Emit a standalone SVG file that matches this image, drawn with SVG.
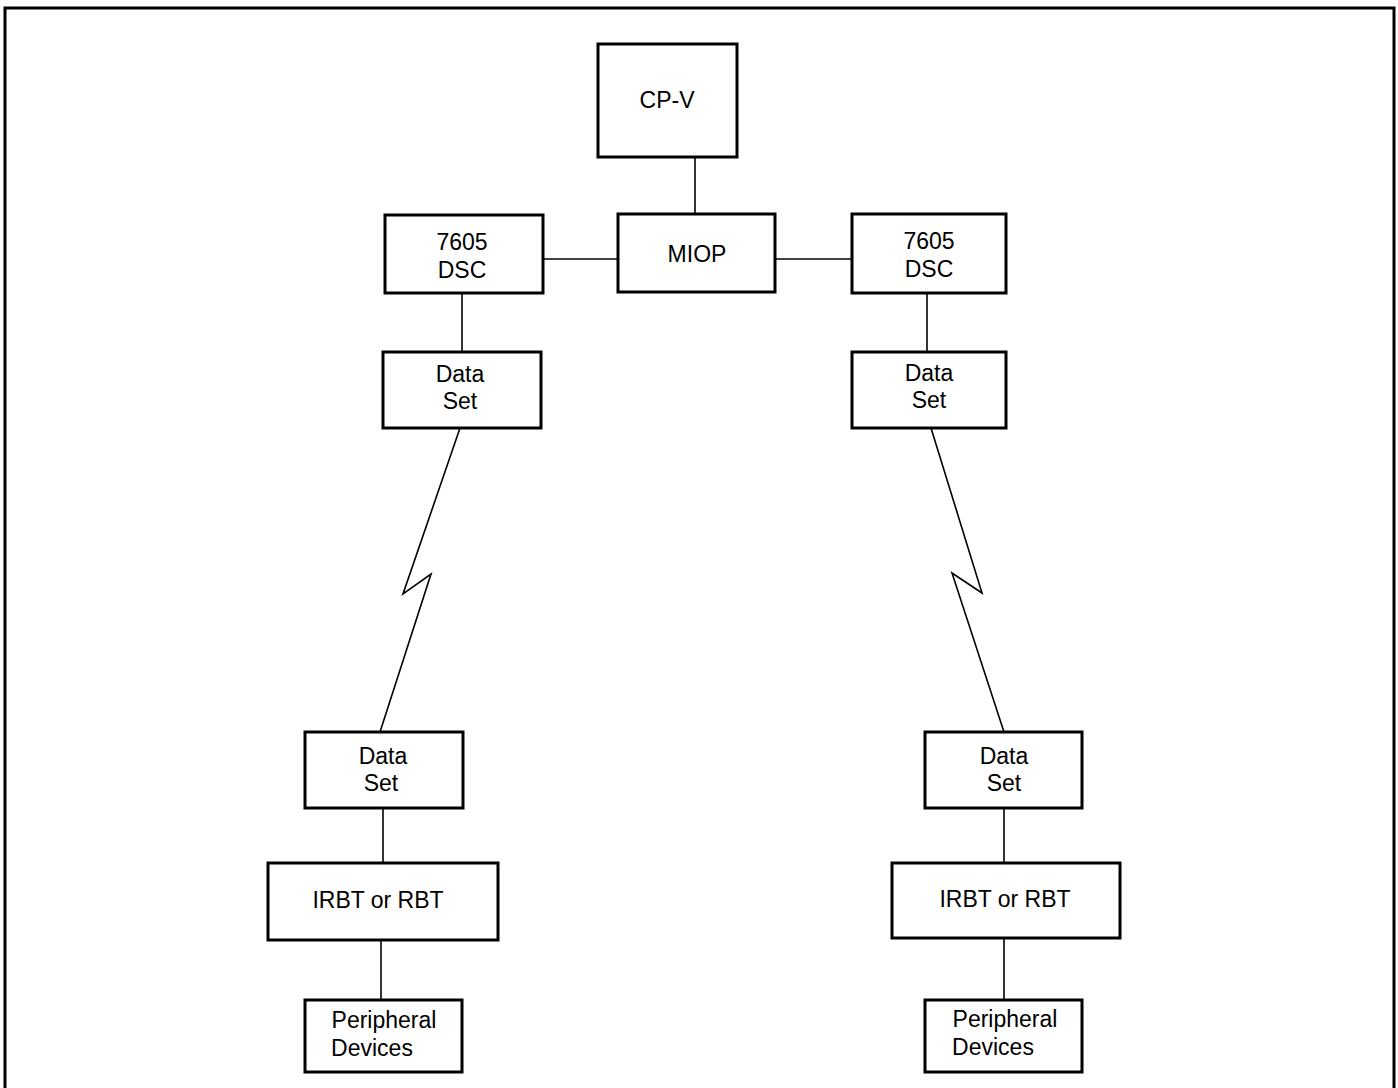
<svg xmlns="http://www.w3.org/2000/svg" width="1398" height="1088" viewBox="0 0 1398 1088">
<style>
.box{fill:#fff;stroke:#000;stroke-width:3}
.ln{fill:none;stroke:#000;stroke-width:1.6;stroke-linejoin:miter}
text{font-family:"Liberation Sans","DejaVu Sans",sans-serif;font-size:23px;fill:#000;text-anchor:middle}
</style>
<rect width="1398" height="1088" fill="#fff"/>
<path d="M5,1088 V8 H1394 V1088" fill="none" stroke="#000" stroke-width="3"/>
<g id="connectors">
<line class="ln" x1="695" y1="157" x2="695" y2="214"/>
<line class="ln" x1="543" y1="259" x2="618" y2="259"/>
<line class="ln" x1="775" y1="259" x2="852" y2="259"/>
<line class="ln" x1="462" y1="293" x2="462" y2="352"/>
<line class="ln" x1="927" y1="293" x2="927" y2="352"/>
<polyline class="ln" points="460,428 403,594 431,574 380,732"/>
<polyline class="ln" points="931,428 982,593 952,573 1004,732"/>
<line class="ln" x1="383" y1="808" x2="383" y2="863"/>
<line class="ln" x1="381" y1="940" x2="381" y2="1000"/>
<line class="ln" x1="1004" y1="808" x2="1004" y2="863"/>
<line class="ln" x1="1004" y1="938" x2="1004" y2="1000"/>
</g>
<g id="cpv"><rect class="box" x="598" y="44" width="139" height="113"/><text x="667" y="108">CP-V</text></g>
<g id="miop"><rect class="box" x="618" y="214" width="157" height="78"/><text x="697" y="262">MIOP</text></g>
<g id="dsc-left"><rect class="box" x="385" y="215" width="158" height="78"/><text x="462" y="250">7605</text><text x="462" y="278">DSC</text></g>
<g id="dsc-right"><rect class="box" x="852" y="214" width="154" height="79"/><text x="929" y="249">7605</text><text x="929" y="277">DSC</text></g>
<g id="ds-left-top"><rect class="box" x="383" y="352" width="158" height="76"/><text x="460" y="382">Data</text><text x="460" y="409">Set</text></g>
<g id="ds-right-top"><rect class="box" x="852" y="352" width="154" height="76"/><text x="929" y="381">Data</text><text x="929" y="408">Set</text></g>
<g id="ds-left-bottom"><rect class="box" x="305" y="732" width="158" height="76"/><text x="383" y="764">Data</text><text x="381" y="791">Set</text></g>
<g id="ds-right-bottom"><rect class="box" x="925" y="732" width="157" height="76"/><text x="1004" y="764">Data</text><text x="1004" y="791">Set</text></g>
<g id="rbt-left"><rect class="box" x="268" y="863" width="230" height="77"/><text x="378" y="908">IRBT  or  RBT</text></g>
<g id="rbt-right"><rect class="box" x="892" y="863" width="228" height="75"/><text x="1005" y="907">IRBT  or  RBT</text></g>
<g id="pd-left"><rect class="box" x="305" y="1000" width="157" height="72"/><text x="384" y="1028">Peripheral</text><text x="372" y="1056">Devices</text></g>
<g id="pd-right"><rect class="box" x="925" y="1000" width="157" height="72"/><text x="1005" y="1027">Peripheral</text><text x="993" y="1055">Devices</text></g>
</svg>
